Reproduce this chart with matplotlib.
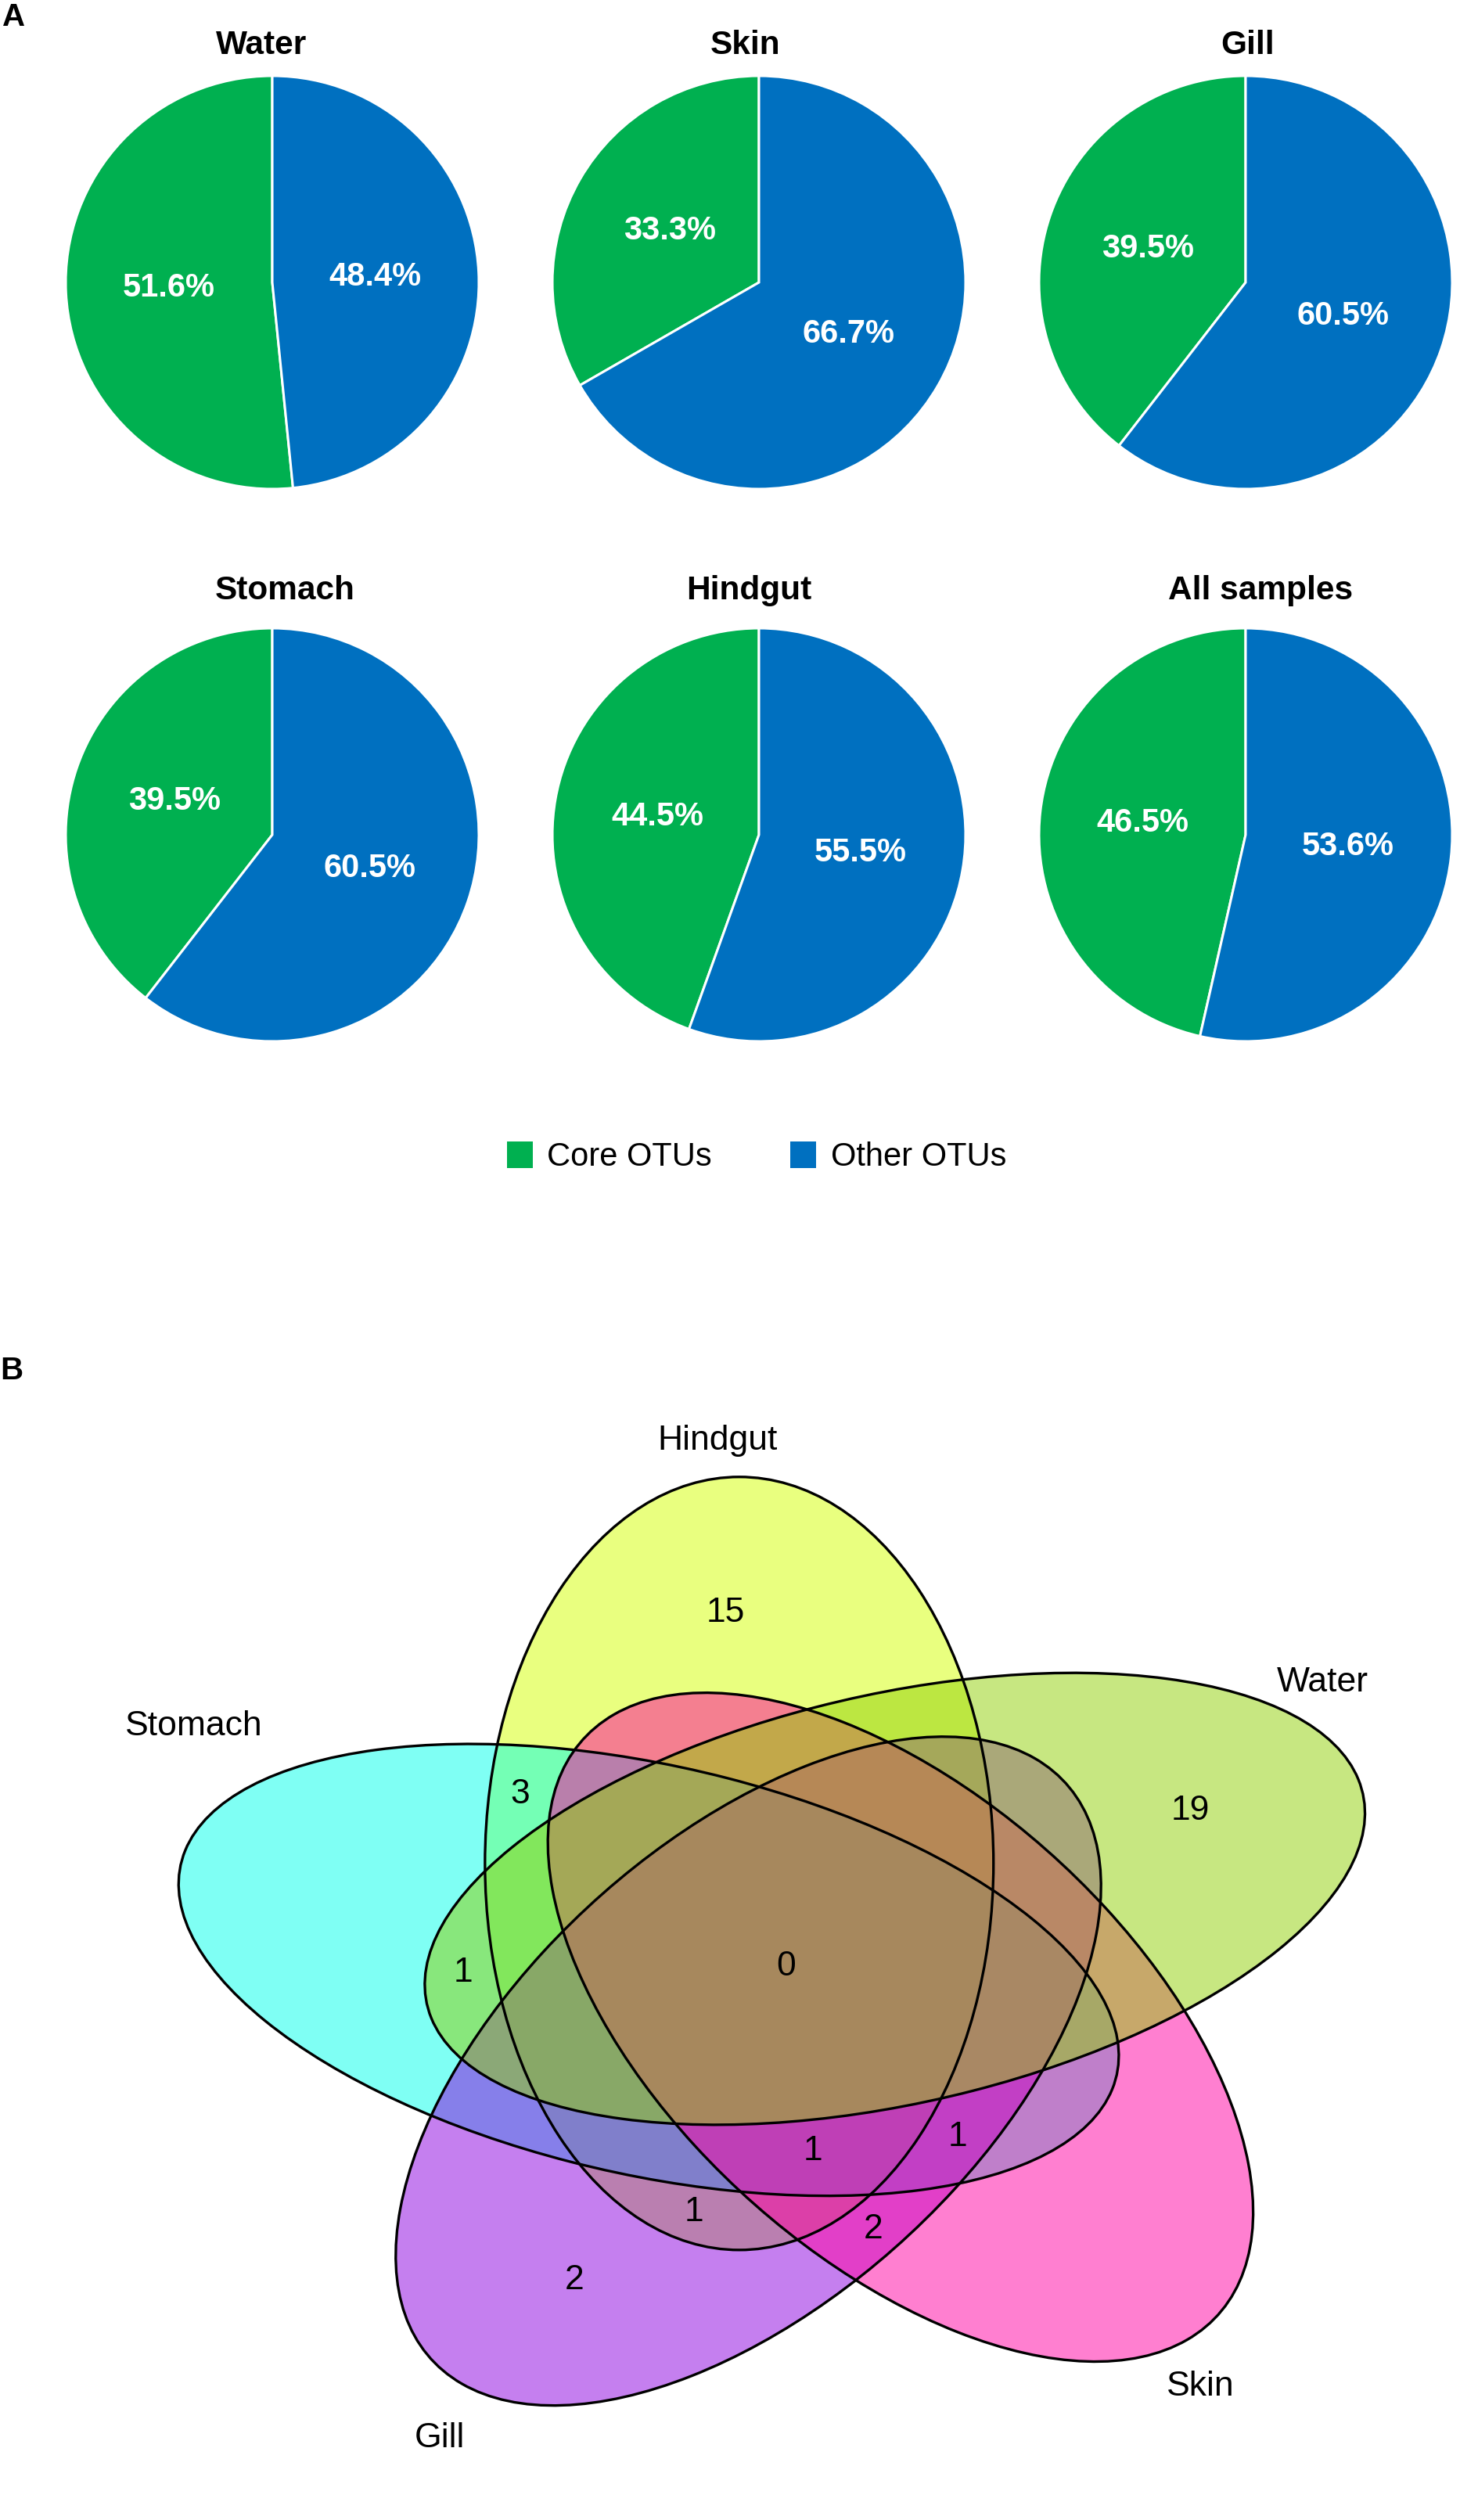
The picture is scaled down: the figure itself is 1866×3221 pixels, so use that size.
import numpy as np
import matplotlib
matplotlib.use("Agg")
import matplotlib.pyplot as plt
from matplotlib.patches import Ellipse, Patch

plt.rcParams["font.family"] = ["Liberation Sans", "DejaVu Sans"]

# ---- panel A data ----
samples = ["Water", "Skin", "Gill", "Stomach", "Hindgut", "All samples"]
core_pct = [51.6, 33.3, 39.5, 39.5, 44.5, 46.5]
other_pct = [48.4, 66.7, 60.5, 60.5, 55.5, 53.6]
legend_labels = ["Core OTUs", "Other OTUs"]
pie_colors = ["#00B050", "#0070C0"]

# ---- panel B data ----
# drawing order of the sets (later ones lie on top)
venn_sets = ["Hindgut", "Stomach", "Gill", "Skin", "Water"]
venn_fill = ["#D4FF00", "#00FFEB", "#8D01E1", "#FF00A2", "#91D105"]
venn_regions = [
    "Hindgut",
    "Water",
    "Gill",
    "Stomach&Hindgut",
    "Stomach&Water",
    "Hindgut&Gill",
    "Skin&Gill",
    "Stomach&Skin&Gill",
    "Stomach&Hindgut&Skin&Gill",
    "Stomach&Hindgut&Water&Skin&Gill",
]
venn_counts = [15, 19, 2, 3, 1, 1, 2, 1, 1, 0]

W, H = 1866, 3221
DPI = 100
fig = plt.figure(figsize=(W / DPI, H / DPI), dpi=DPI)

# ---------------- panel A: pies ----------------
pie_cx = [348, 970, 1592]
pie_cy = [361, 1067]
pie_r = 264
title_x = [334, 953, 1595, 364, 957, 1611]
title_base = [69, 766]

for i, name in enumerate(samples):
    cx = pie_cx[i % 3]
    cy = pie_cy[i // 3]
    half = 1.25 * pie_r
    ax = fig.add_axes([(cx - half) / W, 1 - (cy + half) / H, 2 * half / W, 2 * half / H])
    vals = [core_pct[i], other_pct[i]]
    wedges, _ = ax.pie(vals, colors=pie_colors, startangle=90, counterclock=True,
                       wedgeprops=dict(edgecolor="white", linewidth=2.2))
    total = sum(vals)
    start = 90.0
    for v in vals:
        mid = np.deg2rad(start + 180.0 * v / total)
        ax.text(0.5 * np.cos(mid), 0.5 * np.sin(mid), f"{v:.1f}%", color="white",
                fontsize=30, fontweight="bold", ha="center", va="center")
        start += 360.0 * v / total
    ax.set_xlim(-1.25, 1.25)
    ax.set_ylim(-1.25, 1.25)
    fig.text(title_x[i] / W, 1 - title_base[i // 3] / H, name, fontsize=30.5,
             fontweight="bold", ha="center", va="baseline")

handles = [Patch(facecolor=c, edgecolor="none") for c in pie_colors]
fig.legend(handles, legend_labels, loc="center", bbox_to_anchor=(967 / W, 1 - 1479 / H),
           ncol=2, frameon=False, fontsize=30, handlelength=0.8, handleheight=0.87,
           handletextpad=0.44, columnspacing=2.4, borderpad=0)

fig.text(3 / W, 1 - 33 / H, "A", fontsize=29, fontweight="bold", ha="left", va="baseline")
fig.text(0 / W, 1 - 1763 / H, "B", fontsize=29, fontweight="bold", ha="left", va="baseline")

# ---------------- panel B: five-set venn ----------------
SX, SY = 1354.0, 1074.0          # px per venn unit
CX0, CY0 = 1005.0, 2513.0        # px of venn centre (0.5, 0.5)
Y_TOP = 1700


def to_venn(px, py):
    return (px - CX0) / SX + 0.5, (CY0 - py) / SY + 0.5


axv = fig.add_axes([0, 0, 1, 1 - Y_TOP / H])
x_lo, _ = to_venn(0, 0)
x_hi, _ = to_venn(W, 0)
_, y_lo = to_venn(0, H)
_, y_hi = to_venn(0, Y_TOP)
axv.set_xlim(x_lo, x_hi)
axv.set_ylim(y_lo, y_hi)
axv.axis("off")

dist, a_major, b_minor = 0.13, 0.46, 0.24
offset_angle = {"Water": 38, "Hindgut": 110, "Stomach": 182, "Gill": 254, "Skin": 326}
geom = {}
for s in venn_sets:
    phi = offset_angle[s]
    cx = 0.5 + dist * np.cos(np.deg2rad(phi))
    cy = 0.5 + dist * np.sin(np.deg2rad(phi))
    geom[s] = (cx, cy, phi - 20)

for s, col in zip(venn_sets, venn_fill):
    cx, cy, th = geom[s]
    axv.add_patch(Ellipse((cx, cy), 2 * a_major, 2 * b_minor, angle=th,
                          facecolor=col, alpha=0.5, edgecolor="none"))
for s in venn_sets:
    cx, cy, th = geom[s]
    axv.add_patch(Ellipse((cx, cy), 2 * a_major, 2 * b_minor, angle=th,
                          facecolor="none", edgecolor="black", linewidth=2.4))

# membership grid to find where each region's label goes
gu, gv = np.meshgrid(np.linspace(-0.2, 1.15, 900), np.linspace(-0.15, 1.15, 900))
inside = {}
for s in venn_sets:
    cx, cy, th = geom[s]
    t = np.deg2rad(th)
    du, dv = gu - cx, gv - cy
    along = du * np.cos(t) + dv * np.sin(t)
    perp = -du * np.sin(t) + dv * np.cos(t)
    inside[s] = (along / a_major) ** 2 + (perp / b_minor) ** 2 <= 1

for reg, n in zip(venn_regions, venn_counts):
    members = reg.split("&")
    mask = np.ones_like(gu, dtype=bool)
    for s in venn_sets:
        mask &= inside[s] if s in members else ~inside[s]
    mu, mv = gu[mask].mean(), gv[mask].mean()
    # keep the point inside the region
    k = np.argmin((gu[mask] - mu) ** 2 + ((gv[mask] - mv) * SY / SX) ** 2)
    axv.text(gu[mask][k], gv[mask][k], str(n), fontsize=32, ha="center", va="center")

set_label_px = {"Hindgut": (917, 1841), "Stomach": (248, 2207), "Water": (1690, 2150),
                "Skin": (1534, 3050), "Gill": (562, 3117)}
for s, (px, py) in set_label_px.items():
    u, v = to_venn(px, py)
    axv.text(u, v, s, fontsize=32, ha="center", va="center")

fig.savefig("out.png", dpi=DPI)
